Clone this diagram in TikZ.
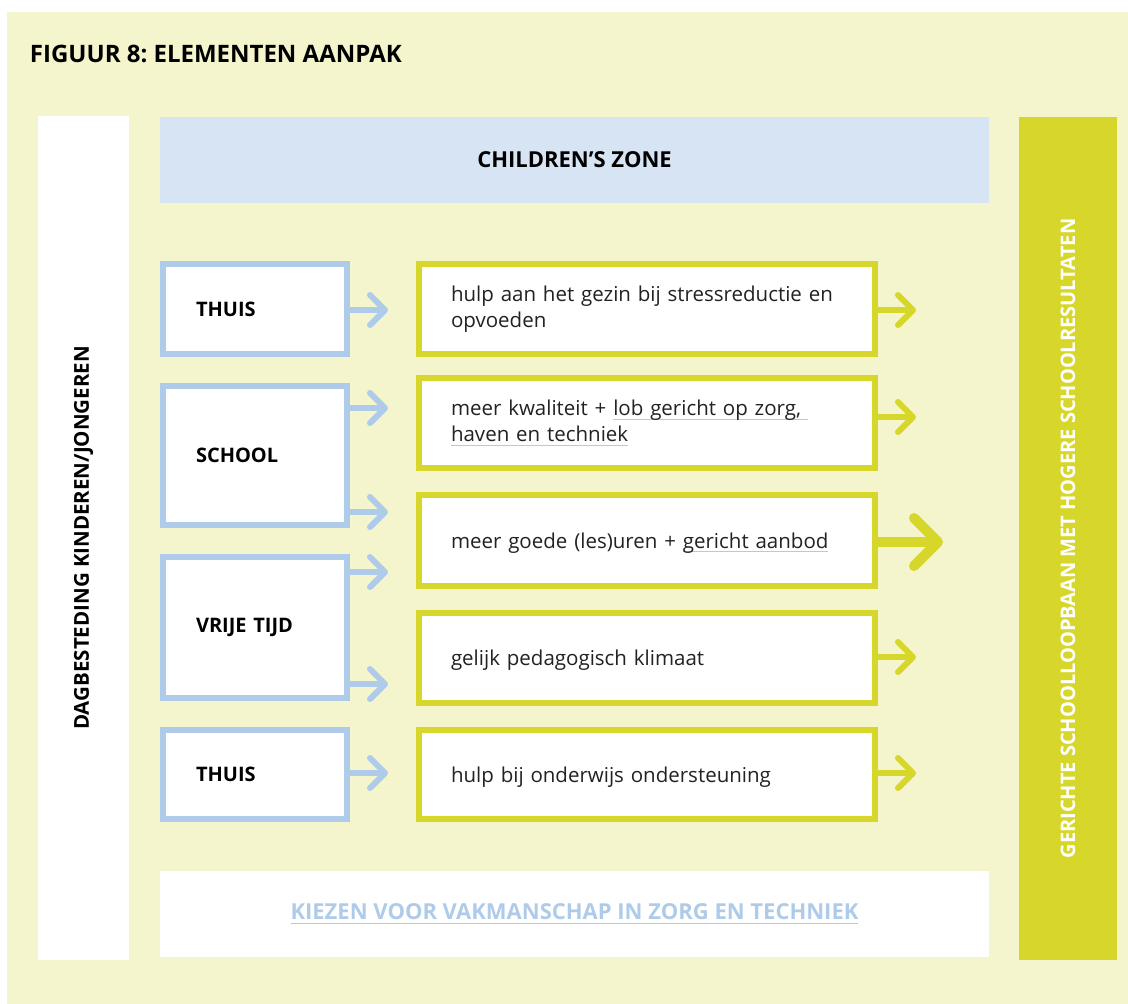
\documentclass[tikz,border=0pt]{standalone}
\usepackage{fontspec}
\setmainfont{Open Sans}
\usetikzlibrary{arrows.meta}

\definecolor{achter}{HTML}{F4F5CC}
\definecolor{geel}{HTML}{D6D62B}
\definecolor{blauw}{HTML}{AFCBEA}
\definecolor{zone}{HTML}{D6E4F3}
\definecolor{tekst}{HTML}{222222}

% onderstreping in een andere kleur dan de tekst
\newcommand\lnk[2][blauw]{\leavevmode\setbox0\hbox{#2}\rlap{\color{#1}\rule[-4pt]{\wd0}{0.9pt}}\box0}

\begin{document}
\frenchspacing
\begin{tikzpicture}[x=1pt,y=-1pt]
\tikzset{ inner sep=0pt, outer sep=0pt,
  blok/.style={draw=blauw, line width=6pt, fill=white, anchor=north west,
    minimum width=184pt, inner xsep=33pt, text width=118pt, align=left,
    font=\bfseries\fontsize{20}{24}\selectfont},
  doel/.style={draw=geel, line width=6pt, fill=white, anchor=north west,
    minimum width=456pt, inner xsep=32pt, text width=392pt, align=left,
    text=tekst, font=\fontsize{20.5}{26}\selectfont},
  regel/.style={doel, text depth=0pt},
  bpijl/.style={blauw, line width=6pt, -{Straight Barb[length=15pt, width=30pt, round]}},
  gpijl/.style={geel, line width=6pt, -{Straight Barb[length=15pt, width=30pt, round]}},
  grootpijl/.style={geel, line width=10pt, -{Straight Barb[length=24pt, width=48pt, round]}},
}

\useasboundingbox (0,0) rectangle (1128,1004);
\fill [achter] (7,12) rectangle (1128,1004);

\node [anchor=base west, font=\bfseries\fontsize{24}{28}\selectfont] (titel) at (30,62) {FIGUUR 8: ELEMENTEN AANPAK};

% zijbalken
\node [fill=white, minimum width=91pt, minimum height=844pt] (links) at (83.5,538) {};
\node [rotate=90, font=\bfseries\fontsize{20.5}{24}\selectfont] (linkst) at (links.center) {DAGBESTEDING KINDEREN/JONGEREN};
\node [fill=geel, minimum width=98pt, minimum height=843pt] (rechts) at (1068,538.5) {};
\node [rotate=90, text=white, font=\bfseries\fontsize{20}{24}\selectfont] (rechtst) at (rechts.center) {GERICHTE SCHOOLLOOPBAAN MET HOGERE SCHOOLRESULTATEN};

\node [fill=zone, minimum width=829pt, minimum height=86pt, font=\bfseries\fontsize{22}{26}\selectfont] (zone) at (574.5,160) {CHILDREN’S ZONE};
\node [fill=white, minimum width=829pt, minimum height=86pt, text=blauw, font=\bfseries\fontsize{22}{26}\selectfont] (vak) at (574.5,914) {\lnk[blauw]{KIEZEN VOOR VAKMANSCHAP IN ZORG EN TECHNIEK}};

% linkerkolom
\node [blok, minimum height=90pt]  (T1) at (163,264) {THUIS};
\node [blok, minimum height=139pt] (S)  at (163,386) {SCHOOL};
\node [blok, minimum height=141pt] (VT) at (163,557) {VRIJE TIJD};
\node [blok, minimum height=89pt]  (T2) at (163,730) {THUIS};

% rechterkolom
\node [doel, minimum height=90pt]  (H1) at (419,264) {hulp aan het gezin bij stressreductie en\\opvoeden};
\node [doel, minimum height=90pt]  (K)  at (419,378) {meer kwaliteit + \lnk{lob gericht op zorg, }\\\lnk{haven en techniek}};
\node [regel, minimum height=91pt] (U)  at (419,495) {meer goede (les)uren + \lnk{gericht aanbod}};
\node [regel, minimum height=90pt] (P)  at (419,613) {gelijk pedagogisch klimaat};
\node [regel, minimum height=89pt] (H2) at (419,730) {hulp bij onderwijs ondersteuning};

\draw [bpijl] (T1.east |- 0,310) -- +(41,0);
\draw [bpijl] (S.east |- 0,408)  -- +(41,0);
\draw [bpijl] (S.east |- 0,512)  -- +(41,0);
\draw [bpijl] (VT.east |- 0,572) -- +(41,0);
\draw [bpijl] (VT.east |- 0,684) -- +(41,0);
\draw [bpijl] (T2.east |- 0,773) -- +(41,0);

\draw [gpijl]     (H1.east |- 0,310) -- +(41,0);
\draw [gpijl]     (K.east |- 0,417)  -- +(41,0);
\draw [grootpijl] (U.east |- 0,542)  -- +(68,0);
\draw [gpijl]     (P.east |- 0,657)  -- +(41,0);
\draw [gpijl]     (H2.east |- 0,773) -- +(41,0);
\end{tikzpicture}
\end{document}
